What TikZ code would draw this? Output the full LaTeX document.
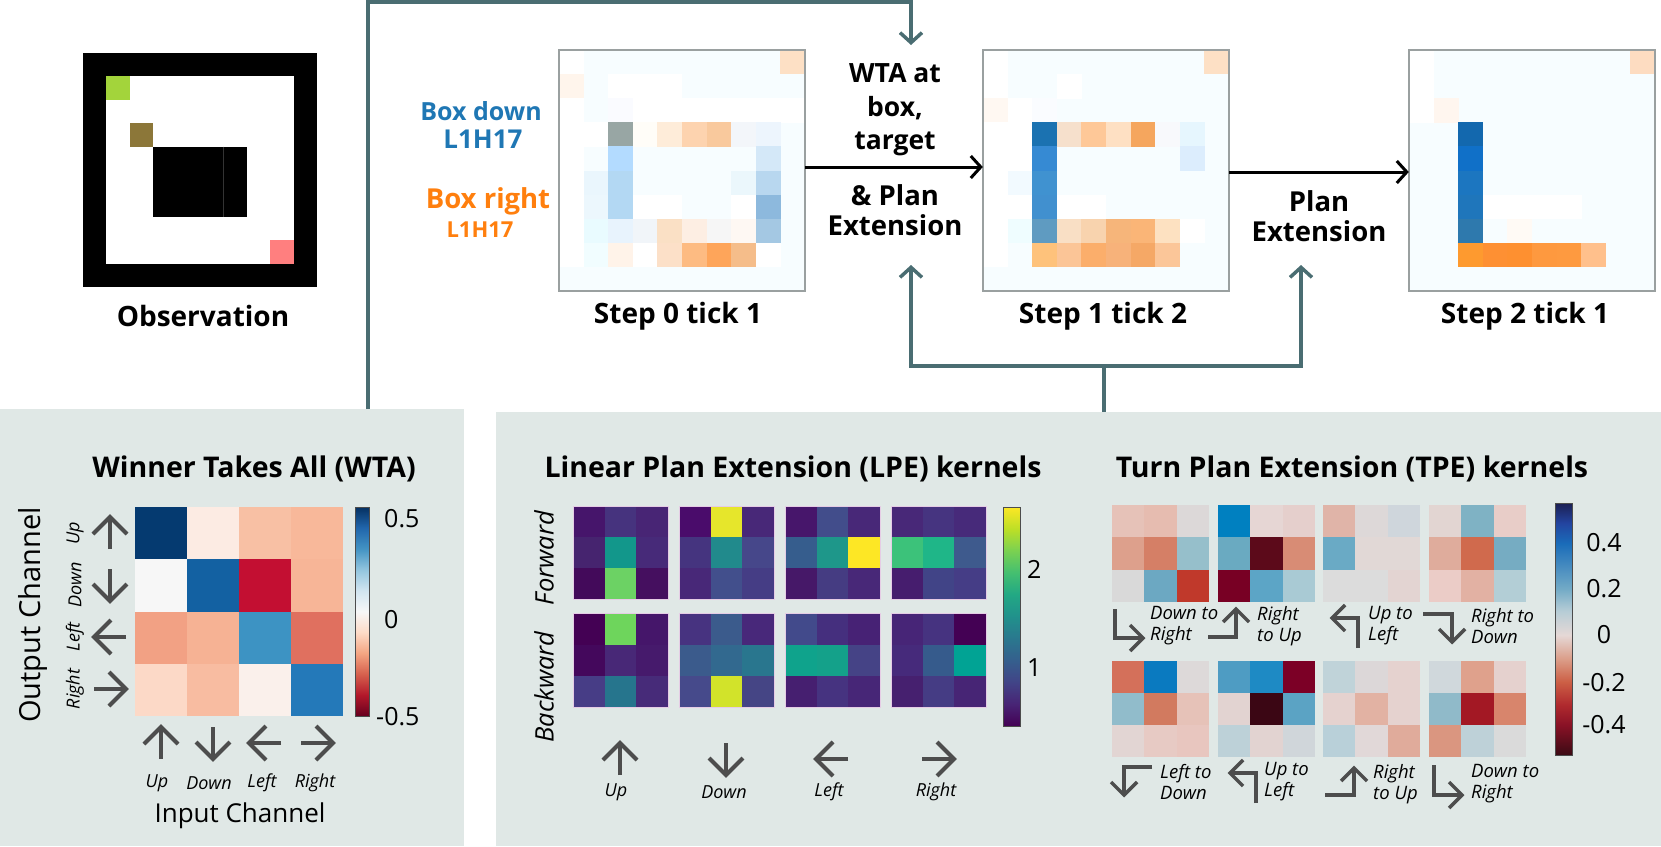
\documentclass[tikz,border=0pt]{standalone}
\usepackage{fontspec}
\setmainfont{Open Sans}
\usetikzlibrary{arrows.meta}
\definecolor{panelbg}{HTML}{E0E8E6}
\definecolor{conncol}{HTML}{4A6D72}
\definecolor{framegray}{HTML}{9AA0A0}
\definecolor{arrgray}{HTML}{4D4D4D}
\definecolor{boxblue}{HTML}{1F77B4}
\definecolor{boxorange}{HTML}{FF7F0E}
\definecolor{faintcyan}{HTML}{F7FDFF}
\definecolor{obsgreen}{HTML}{A3D43B}
\definecolor{obsbrown}{HTML}{8C7739}
\definecolor{obspink}{HTML}{FF7F7F}
% RdBu
\definecolor{rb0}{HTML}{67001F}\definecolor{rb1}{HTML}{B2182B}\definecolor{rb2}{HTML}{D6604D}
\definecolor{rb3}{HTML}{F4A582}\definecolor{rb4}{HTML}{FDDBC7}\definecolor{rb5}{HTML}{F7F7F7}
\definecolor{rb6}{HTML}{D1E5F0}\definecolor{rb7}{HTML}{92C5DE}\definecolor{rb8}{HTML}{4393C3}
\definecolor{rb9}{HTML}{2166AC}\definecolor{rb10}{HTML}{053061}
\pgfdeclareverticalshading{rdbu}{100bp}{color(0bp)=(rb0); color(25bp)=(rb0); color(30bp)=(rb1); color(35bp)=(rb2); color(40bp)=(rb3); color(45bp)=(rb4); color(50bp)=(rb5); color(55bp)=(rb6); color(60bp)=(rb7); color(65bp)=(rb8); color(70bp)=(rb9); color(75bp)=(rb10); color(100bp)=(rb10)}
% viridis
\definecolor{vi0}{HTML}{440154}\definecolor{vi1}{HTML}{482475}\definecolor{vi2}{HTML}{414487}
\definecolor{vi3}{HTML}{355F8D}\definecolor{vi4}{HTML}{2A788E}\definecolor{vi5}{HTML}{21918C}
\definecolor{vi6}{HTML}{22A884}\definecolor{vi7}{HTML}{44BF70}\definecolor{vi8}{HTML}{7AD151}
\definecolor{vi9}{HTML}{BDDF26}\definecolor{vi10}{HTML}{FDE725}
\pgfdeclareverticalshading{viridis}{100bp}{color(0bp)=(vi0); color(25bp)=(vi0); color(30bp)=(vi1); color(35bp)=(vi2); color(40bp)=(vi3); color(45bp)=(vi4); color(50bp)=(vi5); color(55bp)=(vi6); color(60bp)=(vi7); color(65bp)=(vi8); color(70bp)=(vi9); color(75bp)=(vi10); color(100bp)=(vi10)}
% balance
\definecolor{ba0}{HTML}{3B0A14}\definecolor{ba1}{HTML}{8A1226}\definecolor{ba2}{HTML}{B02A2E}
\definecolor{ba3}{HTML}{CC5F45}\definecolor{ba4}{HTML}{DB9D88}\definecolor{ba5}{HTML}{E5D8D6}
\definecolor{ba6}{HTML}{B7CDD6}\definecolor{ba7}{HTML}{72AAC6}\definecolor{ba8}{HTML}{1A6CB9}
\definecolor{ba9}{HTML}{2344A0}\definecolor{ba10}{HTML}{1C1F52}
\pgfdeclareverticalshading{balance}{100bp}{color(0bp)=(ba0); color(25bp)=(ba0); color(31bp)=(ba1); color(35bp)=(ba2); color(39.5bp)=(ba3); color(44bp)=(ba4); color(48.8bp)=(ba5); color(53.5bp)=(ba6); color(58bp)=(ba7); color(67bp)=(ba8); color(71bp)=(ba9); color(75bp)=(ba10); color(100bp)=(ba10)}

\newcommand{\gridcells}[6]{%
  \foreach \hh [count=\i from 0] in {#6}{%
    \pgfmathtruncatemacro\cc{mod(\i,#5)}%
    \pgfmathtruncatemacro\rr{div(\i,#5)}%
    \definecolor{tmpc}{HTML}{\hh}%
    \fill[tmpc] ({#1+\cc*#3},{#2+\rr*#4}) rectangle ++({#3+0.3},{#4+0.3});}}
\newcommand{\sparsecells}[5]{%
  \foreach \cc/\rr/\hh in {#5}{%
    \definecolor{tmpc}{HTML}{\hh}%
    \fill[tmpc] ({#1+\cc*#3},{#2+\rr*#4}) rectangle ++({#3+0.3},{#4+0.3});}}
\newcommand{\dirarrow}[3]{%
  \begin{scope}[shift={(#1,#2)}, rotate=#3]
    \draw[garrow] (0,16) -- (0,-16);
    \draw[garrow] (-17,1) -- (0,-16) -- (17,1);
  \end{scope}}
\newcommand{\chev}[3]{%
  \begin{scope}[shift={(#1,#2)}, rotate=#3]
    \draw[tarrow] (-13,13) -- (0,0) -- (13,13);
  \end{scope}}

\tikzset{
  garrow/.style={line width=4pt, arrgray, line join=miter},
  tarrow/.style={line width=3.5pt, arrgray, line join=miter},
  panel/.style={fill=panelbg, draw=none, inner sep=0pt},
  stepframe/.style={draw=framegray, line width=2.5pt},
  connline/.style={draw=conncol, line width=3.5pt},
  conntip/.style={-{Straight Barb[length=10pt,width=22pt]}},
  steparrow/.style={draw=black, line width=3pt, -{Straight Barb[length=10pt,width=22pt]}},
  bigbold/.style={font=\bfseries\fontsize{28}{33}\selectfont},
  titlefont/.style={font=\bfseries\fontsize{28.5}{33}\selectfont},
  itsmall/.style={font=\itshape\fontsize{18}{21}\selectfont, inner sep=0pt},
  ittpe/.style={font=\itshape\fontsize{18.5}{21}\selectfont, align=left, anchor=west, inner sep=0pt},
  ticklbl/.style={font=\fontsize{25}{30}\selectfont, inner sep=0pt},
  blank/.style={inner sep=0pt, draw=none},
}

\begin{document}
\begin{tikzpicture}[x=1pt,y=-1pt]
\useasboundingbox (0,0) rectangle (1661,846);

% ---------- panels ----------
\node[panel, minimum width=464pt, minimum height=437pt, anchor=north west] (wtapanel) at (0,409) {};
\node[panel, minimum width=1165pt, minimum height=434pt, anchor=north west] (kpanel) at (496,412) {};

% ---------- observation ----------
\node[blank, minimum width=234pt, minimum height=234pt, fill=black] (obs) at (200,170) {};
\fill[white] (106.4,76.4) rectangle (293.6,263.6);
\fill[obsgreen] (106.4,76.4) rectangle ++(23.4,23.4);
\fill[obsbrown] (129.8,123.2) rectangle ++(23.4,23.4);
\fill[black] (153.2,146.6) rectangle (246.8,216.8);
\draw[black!80, line width=0.6pt] (223.4,146.6) -- (223.4,216.8);
\fill[obspink] (270.2,240.2) rectangle ++(23.4,23.4);
\node[bigbold] (obslbl) at (203,316) {Observation};

% ---------- legend labels ----------
\node[font=\bfseries\fontsize{25}{29}\selectfont, text=boxblue] (bdown) at (481,111) {Box down};
\node[font=\bfseries\fontsize{26}{30}\selectfont, text=boxblue] (bdownid) at (483,139) {L1H17};
\node[font=\bfseries\fontsize{27.5}{31}\selectfont, text=boxorange] (bright) at (488,201) {Box right};
\node[font=\bfseries\fontsize{22}{26}\selectfont, text=boxorange] (brightid) at (480,230) {L1H17};

% ---------- step heatmaps ----------
\node[blank, minimum width=246pt, minimum height=241pt, fill=faintcyan] (s0) at (682,170.5) {};
\node[blank, minimum width=246pt, minimum height=241pt, fill=faintcyan] (s1) at (1106,170.5) {};
\node[blank, minimum width=246pt, minimum height=241pt, fill=faintcyan] (s2) at (1532,170.5) {};

\sparsecells{559}{50}{24.6}{24.1}{0/0/FFFFFF,9/0/FDE0C5,0/1/FFF5EC,2/1/FFFFFF,3/1/FFFFFF,4/1/FFFFFF,
0/2/FFFFFF,2/2/FAFBFF,3/2/FFFFFF,4/2/FFFFFF,5/2/FFFFFF,6/2/FFFFFF,7/2/FFFFFF,8/2/FFFFFF,9/2/FFFFFF,
0/3/FFFFFF,1/3/FFFFFF,2/3/98A6A4,3/3/FFFDF8,4/3/FEECD9,5/3/FDD3AF,6/3/F9C99D,7/3/F3F6FA,8/3/EDF5FD,
0/4/FFFFFF,2/4/B3DBFF,8/4/D4E8F8,
0/5/FFFFFF,1/5/EAF6FD,2/5/B3D8F3,7/5/EBF7FC,8/5/B8D7EF,
0/6/FFFFFF,1/6/ECF7FD,2/6/B3D8F3,3/6/FFFFFF,4/6/FFFFFF,7/6/FFFFFF,8/6/8DB9DD,
0/7/FFFFFF,1/7/E9FBFF,2/7/E8F3FD,3/7/F1F5F9,4/7/FAE0C5,5/7/FDEEE3,6/7/F6F6F6,7/7/FEF8F3,8/7/A4C8E3,
0/8/FFFFFF,1/8/F1FDFF,2/8/FFF3E9,3/8/FFFFFF,4/8/FCE0C8,5/8/FDBB82,6/8/FEA55A,7/8/F5BD8A,8/8/FFFFFF}
\sparsecells{983}{50}{24.6}{24.1}{0/0/FFFFFF,9/0/FDE0C5,0/1/FFFFFF,3/1/FFFFFF,0/2/FFF8F2,1/2/FFFFFF,2/2/FAFCFF,
0/3/FFFFFF,1/3/FFFFFF,2/3/1B72B1,3/3/F6E0CC,4/3/FEC898,5/3/FEE0C3,6/3/F5A65E,7/3/F8F9FC,8/3/E6F6FE,
0/4/FFFFFF,1/4/FFFFFF,2/4/368AD3,8/4/DCEDFD,
0/5/FFFFFF,1/5/F2FAFF,2/5/4092D0,
0/6/FFFFFF,1/6/FFFFFF,2/6/4190CF,3/6/FFFFFF,4/6/FFFFFF,
0/7/FFFFFF,1/7/EFFDFF,2/7/5F9BC1,3/7/F9DFC5,4/7/F8D3AE,5/7/F6B57A,6/7/FAB577,7/7/FDE1C1,8/7/FFFFFF,
0/8/FFFFFF,2/8/FEC27B,3/8/FBC597,4/8/FBAE6B,5/8/F7B27A,6/8/F5A866,7/8/FBC699}
\sparsecells{1409}{50}{24.6}{24.1}{0/0/FFFFFF,9/0/FDDCC1,0/1/FFFFFF,0/2/FFFFFF,1/2/FFF6EF,
2/3/1368AE,2/4/1070C8,2/5/1C76C0,2/6/1F76BB,2/7/2E79AD,
3/6/FFFFFF,4/6/FFFFFF,5/6/FFFFFF,6/6/FFFFFF,4/7/FFFAF5,
2/8/FE9A2F,3/8/FE9033,4/8/FE9030,5/8/FE993F,6/8/FE9A40,7/8/FFC08C}
\draw[stepframe] (s0.south west) rectangle (s0.north east);
\draw[stepframe] (s1.south west) rectangle (s1.north east);
\draw[stepframe] (s2.south west) rectangle (s2.north east);

\node[bigbold] (s0lbl) at (678,316) {Step 0 tick 1};
\node[bigbold] (s1lbl) at (1103,316) {Step 1 tick 2};
\node[bigbold] (s2lbl) at (1525,316) {Step 2 tick 1};

% ---------- step transitions ----------
\node[font=\bfseries\fontsize{26.5}{33.5}\selectfont, align=center] (wtatxt) at (895,110) {WTA at\\box,\\target};
\node[font=\bfseries\fontsize{27.5}{30}\selectfont, align=center] (pe1txt) at (895,210) {\& Plan\\Extension};
\node[font=\bfseries\fontsize{27.5}{30}\selectfont, align=center] (pe2txt) at (1319,216) {Plan\\Extension};
\draw[steparrow] ([yshift=3.5pt]s0.east) -- ([yshift=3.5pt]s1.west);
\draw[steparrow] ([yshift=-1.5pt]s1.east) -- ([yshift=-1.5pt]s2.west);

% ---------- connectors ----------
\coordinate (wtaout) at (368,409);
\coordinate (topcorner) at (911,2);
\coordinate (topin) at (911,45);
\draw[connline, conntip] (wtaout) -- (wtaout |- topcorner) -- (topcorner) -- (topin);
\coordinate (lpeout) at (1104,412);
\coordinate (hubL) at (911,366);
\coordinate (hubR) at (1301,366);
\coordinate (tipL) at (911,265);
\coordinate (tipR) at (1301,265);
\draw[connline] (lpeout) -- (lpeout |- hubL);
\draw[connline, {Straight Barb[length=10pt,width=22pt]}-{Straight Barb[length=10pt,width=22pt]}] (tipL) -- (hubL) -- (hubR) -- (tipR);

% ---------- WTA panel ----------
\node[titlefont] (wtatitle) at (254,469) {Winner Takes All (WTA)};
\gridcells{135}{507}{52}{52.25}{4}{053A70,FCEBE3,F8C0A4,F8B89A, F7F7F7,1361A2,C30F32,F7B597, F2A184,F6B294,3D93C3,E0705F, FCD9C7,F8BCA1,FAF0EB,2479B9}
\shade[shading=rdbu] (355,507) rectangle (369,716);
\draw[black!70, line width=1pt] (355,507) rectangle (369,716);
\node[ticklbl, anchor=west] (wl1) at (384,519) {0.5};
\node[ticklbl, anchor=west] (wl2) at (384,620) {0};
\node[ticklbl, anchor=west] (wl3) at (376,717) {-0.5};
\dirarrow{110}{533}{0}
\dirarrow{110}{585}{180}
\dirarrow{110}{637}{90}
\dirarrow{110}{689}{-90}
\node[itsmall, rotate=90] (ol1) at (75,533) {Up};
\node[itsmall, rotate=90] (ol2) at (75,585) {Down};
\node[itsmall, rotate=90] (ol3) at (75,637) {Left};
\node[itsmall, rotate=90] (ol4) at (75,689) {Right};
\dirarrow{161}{743}{0}
\dirarrow{213}{743}{180}
\dirarrow{265}{743}{90}
\dirarrow{317}{743}{-90}
\node[itsmall] (il1) at (157,783) {Up};
\node[itsmall] (il2) at (209,783) {Down};
\node[itsmall] (il3) at (262,783) {Left};
\node[itsmall] (il4) at (315,783) {Right};
\node[font=\fontsize{29}{34}\selectfont, rotate=90] (outch) at (33,615) {Output Channel};
\node[font=\fontsize{26}{30}\selectfont] (inch) at (240,816) {Input Channel};

% ---------- LPE ----------
\node[titlefont] (lpetitle) at (793,469) {Linear Plan Extension (LPE) kernels};
\gridcells{573}{506}{31.7}{31.1}{3}{46156B,46337E,482575, 46246F,12978B,472A79, 430A5A,6CD264,450F5F}
\gridcells{679}{506}{31.7}{31.1}{3}{4A0C6B,E6E62B,482878, 45347F,218A8C,46478A, 482878,424F8C,453D85}
\gridcells{785}{506}{31.7}{31.1}{3}{47166B,424D8B,482878, 365D8D,1E978A,FDE725, 461868,453C82,482878}
\gridcells{891}{506}{31.7}{31.1}{3}{482878,463480,472A7A, 3CC27A,1FB688,3E5A8D, 461D6E,414487,453D86}
\gridcells{573}{613}{31.7}{31.6}{3}{440154,6ED55C,45166A, 44085C,482877,461A6C, 473D86,26758D,472B79}
\gridcells{679}{613}{31.7}{31.6}{3}{473380,3B5B8C,48287A, 3B5B8C,32698F,29768E, 464A8B,D2E32A,454585}
\gridcells{785}{613}{31.7}{31.6}{3}{424A8B,452F7E,472275, 0FA38C,14A18A,454386, 461F70,463380,472677}
\gridcells{891}{613}{31.7}{31.6}{3}{472577,463380,440154, 462A7B,365B8C,01A394, 46206F,453C84,472575}
\foreach \xx in {573,679,785,891}{
  \draw[white!80!violet, line width=0.7pt] (\xx,506) rectangle ++(95,93.3);
  \draw[white!80!violet, line width=0.7pt] (\xx,613) rectangle ++(95,94.8);}
\shade[shading=viridis] (1003,507) rectangle (1020,726);
\draw[black!70, line width=1pt] (1003,507) rectangle (1020,726);
\node[ticklbl, anchor=west] (ll2) at (1027,569) {2};
\node[ticklbl, anchor=west] (ll1) at (1027,668) {1};
\node[font=\itshape\fontsize{25.5}{29}\selectfont, rotate=90] (fwd) at (544,558) {Forward};
\node[font=\itshape\fontsize{25.5}{29}\selectfont, rotate=90] (bwd) at (544,687) {Backward};
\dirarrow{620}{759}{0}
\dirarrow{726}{759}{180}
\dirarrow{832}{759}{90}
\dirarrow{938}{759}{-90}
\node[itsmall] (lu) at (616,792) {Up};
\node[itsmall] (ld) at (724,792) {Down};
\node[itsmall] (lle) at (829,792) {Left};
\node[itsmall] (lr) at (936,792) {Right};

% ---------- TPE ----------
\node[titlefont] (tpetitle) at (1352,469) {Turn Plan Extension (TPE) kernels};
\gridcells{1112}{505}{32.3}{32.3}{3}{E6C2B8,E6BCB0,DCD8D8, DDA08C,D57F66,96BFCB, D9D9D9,6CA8C2,C0392B}
\gridcells{1218}{505}{32.3}{32.3}{3}{0080C0,E6D6D4,E5CFCC, 6AAAC1,5C0A1A,D88C75, 780024,5CA5C6,A9CAD4}
\gridcells{1323}{505}{32.3}{32.3}{3}{E0B4A8,DDD8D8,CFD6DC, 6AAAC5,E1D8D6,E1D8D6, DCDCDC,DCDCDC,E3D4D2}
\gridcells{1429}{505}{32.3}{32.3}{3}{E2D5D2,7FB2C4,E8CDC8, DFAC9C,D06A4D,76ACC2, EBCCC7,E2B1A3,B3CED6}
\gridcells{1112}{661}{32.3}{32}{3}{D4705A,0A7AC0,DDD9D9, 91BCCB,D27A5F,E6C2B8, E2D5D3,E7CAC4,E8C6BF}
\gridcells{1218}{661}{32.3}{32}{3}{4E9CC3,1E8AC4,7C0026, E2D3D1,3B0614,5BA3C4, BDD1D8,E2D3D1,D0D6DA}
\gridcells{1323}{661}{32.3}{32}{3}{C0D3D9,DCD7D8,E5D2CF, E5D2CF,E2B2A3,E5D2CF, B9D0D9,E1D8D8,E0AB9B}
\gridcells{1429}{661}{32.3}{32}{3}{D0D8DC,DFA18C,E5D1CE, 90BAC9,A31824,D8856C, DA9680,BED1D8,DADADA}
\shade[shading=balance] (1555,503) rectangle (1572,755);
\draw[black!70, line width=1pt] (1555,503) rectangle (1572,755);
\node[ticklbl] (tl1) at (1604,543) {0.4};
\node[ticklbl] (tl2) at (1604,589) {0.2};
\node[ticklbl] (tl3) at (1604,635) {0};
\node[ticklbl] (tl4) at (1604,683) {-0.2};
\node[ticklbl] (tl5) at (1604,725) {-0.4};
% turn arrows, top row
\draw[tarrow] (1115,609) -- (1115,638) -- (1143,638); \chev{1143}{638}{-90}
\draw[tarrow] (1208,637) -- (1236,637) -- (1236,609); \chev{1236}{609}{0}
\draw[tarrow] (1358,648) -- (1358,618) -- (1332,618); \chev{1332}{618}{90}
\draw[tarrow] (1423,614) -- (1452,614) -- (1452,642); \chev{1452}{642}{180}
% bottom row
\draw[tarrow] (1152,767) -- (1124,767) -- (1124,795); \chev{1124}{795}{180}
\draw[tarrow] (1256,803) -- (1256,773) -- (1230,773); \chev{1230}{773}{90}
\draw[tarrow] (1325,795) -- (1354,795) -- (1354,768); \chev{1354}{768}{0}
\draw[tarrow] (1434,765) -- (1434,795) -- (1462,795); \chev{1462}{795}{-90}
\node[ittpe] (t1) at (1150,626) {Down to\\Right};
\node[ittpe] (t2) at (1257,626) {Right\\to Up};
\node[ittpe] (t3) at (1368,626) {Up to\\Left};
\node[ittpe] (t4) at (1471,626) {Right to\\Down};
\node[ittpe] (t5) at (1160,782) {Left to\\Down};
\node[ittpe] (t6) at (1264,782) {Up to\\Left};
\node[ittpe] (t7) at (1373,784) {Right\\to Up};
\node[ittpe] (t8) at (1471,784) {Down to\\Right};
\end{tikzpicture}
\end{document}
